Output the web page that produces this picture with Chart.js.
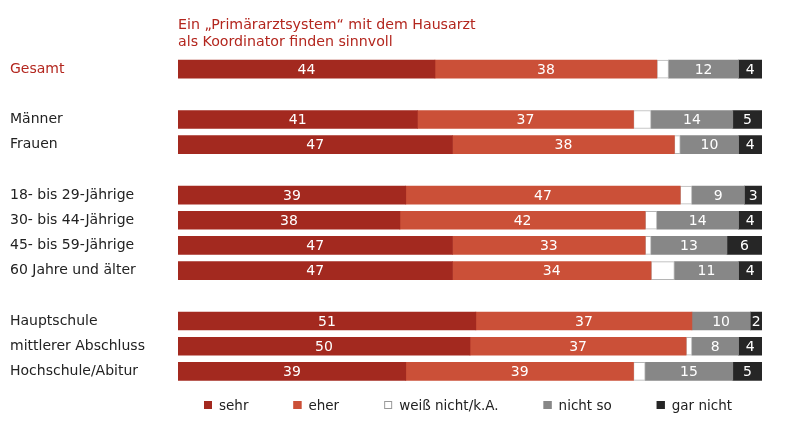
<!DOCTYPE html>
<html>
<head>
<meta charset="utf-8">
<script src="https://cdn.jsdelivr.net/npm/chart.js@4"></script>
<style>
  html, body { margin: 0; padding: 0; background: #ffffff; }
  #wrap { width: 807px; height: 428px; }
</style>
</head>
<body>
<div id="wrap"><canvas id="c" width="807" height="428"></canvas></div>
<script>
const categories = ['Gesamt', '', 'Männer', 'Frauen', '', '18- bis 29-Jährige', '30- bis 44-Jährige', '45- bis 59-Jährige', '60 Jahre und älter', '', 'Hauptschule', 'mittlerer Abschluss', 'Hochschule/Abitur'];
const sehr     = [44, null, 41, 47, null, 39, 38, 47, 47, null, 51, 50, 39];
const eher     = [38, null, 37, 38, null, 47, 42, 33, 34, null, 37, 37, 39];
const weiss    = [2,  null, 3,  1,  null, 2,  2,  1,  4,  null, 0,  1,  2];
const nichtSo  = [12, null, 14, 10, null, 9,  14, 13, 11, null, 10, 8,  15];
const garNicht = [4,  null, 5,  4,  null, 3,  4,  6,  4,  null, 2,  4,  5];
const seriesLabels = ['sehr', 'eher', 'weiß nicht/k.A.', 'nicht so', 'gar nicht'];
const titleLines = ['Ein „Primärarztsystem“ mit dem Hausarzt', 'als Koordinator finden sinnvoll'];

const FONT = 'DejaVu Sans, Verdana, sans-serif';
const colors = ['#a3291f', '#cb5038', '#ffffff', '#878787', '#262626'];

const valueLabels = {
  id: 'valueLabels',
  afterDatasetsDraw(chart) {
    const ctx = chart.ctx;
    ctx.save();
    ctx.font = '14px ' + FONT;
    ctx.fillStyle = '#ffffff';
    ctx.textAlign = 'center';
    ctx.textBaseline = 'middle';
    chart.data.datasets.forEach((ds, di) => {
      if (di === 2) return;
      const meta = chart.getDatasetMeta(di);
      meta.data.forEach((el, i) => {
        const v = ds.data[i];
        if (v === null || v === 0) return;
        const p = el.getProps(['x', 'y', 'base'], true);
        ctx.fillText(String(v), (p.x + p.base) / 2, p.y + 1);
      });
    });
    ctx.restore();
  }
};

const customLegend = {
  id: 'customLegend',
  afterDraw(chart) {
    const ctx = chart.ctx;
    const ca = chart.chartArea;
    ctx.save();
    ctx.font = '13.5px ' + FONT;
    ctx.textBaseline = 'middle';
    ctx.textAlign = 'left';
    const box = 8, gapText = 7, gap = 45;
    const widths = chart.data.datasets.map(ds => box + gapText + ctx.measureText(ds.label).width);
    const total = widths.reduce((a, b) => a + b, 0) + gap * (widths.length - 1);
    let x = (ca.left + ca.right) / 2 - 2 - total / 2;
    const y = 405;
    chart.data.datasets.forEach((ds, i) => {
      ctx.fillStyle = ds.backgroundColor;
      ctx.fillRect(x, y - box / 2, box, box);
      ctx.strokeStyle = i === 2 ? '#999999' : ds.backgroundColor;
      ctx.lineWidth = 1;
      ctx.strokeRect(x + 0.5, y - box / 2 + 0.5, box - 1, box - 1);
      ctx.fillStyle = '#222222';
      ctx.fillText(ds.label, x + box + gapText, y + 1);
      x += widths[i] + gap;
    });
    ctx.restore();
  }
};

const seriesData = [sehr, eher, weiss, nichtSo, garNicht];
const datasets = seriesData.map((d, i) => ({
  label: seriesLabels[i],
  data: d,
  backgroundColor: colors[i],
  borderColor: i === 2 ? '#b5b5b5' : colors[i],
  borderWidth: i === 2 ? 1 : 0,
  borderSkipped: false,
  barThickness: 18,
  categoryPercentage: 1,
  barPercentage: 1
}));

new Chart(document.getElementById('c'), {
  type: 'bar',
  data: { labels: categories, datasets },
  plugins: [valueLabels, customLegend],
  options: {
    indexAxis: 'y',
    responsive: false,
    animation: false,
    layout: { padding: { left: 10, right: 45, top: 0, bottom: 44 } },
    scales: {
      x: { stacked: true, min: 0, max: 100, display: false },
      y: {
        stacked: true,
        grid: { display: false },
        border: { display: false },
        afterFit(scale) { scale.width = 168; },
        ticks: {
          crossAlign: 'far',
          padding: 0,
          font: { size: 14, family: FONT },
          color: ctx => ctx.index === 0 ? '#b3261e' : '#222222'
        }
      }
    },
    plugins: {
      legend: { display: false },
      tooltip: { enabled: false },
      title: {
        display: true,
        text: titleLines,
        align: 'start',
        fullSize: false,
        color: '#b3261e',
        font: { size: 14.2, family: FONT, weight: 'normal', lineHeight: 17 / 14.2 },
        padding: { top: 16.5, bottom: 6 }
      }
    }
  }
});
</script>
</body>
</html>
